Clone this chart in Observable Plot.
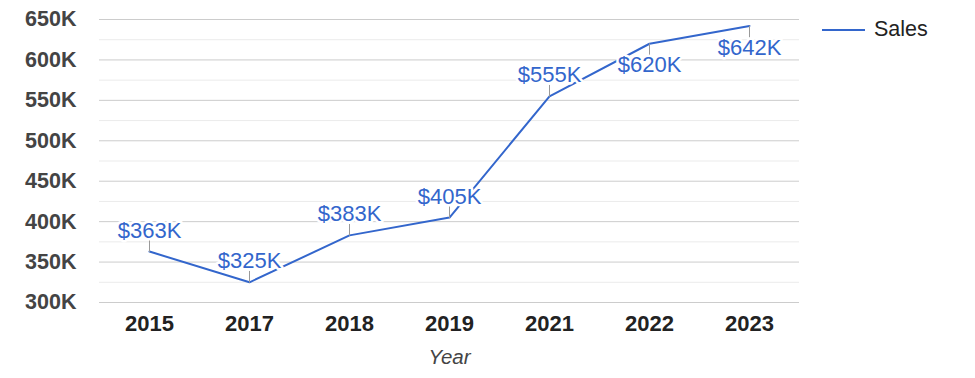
<!DOCTYPE html>
<html>
<head>
<meta charset="utf-8">
<script src="https://cdn.jsdelivr.net/npm/d3@7"></script>
<script src="https://cdn.jsdelivr.net/npm/@observablehq/plot@0.6"></script>
<style>
  html, body { margin: 0; padding: 0; background: #fff; }
  #wrap { position: relative; width: 975px; height: 378px; font-family: "Liberation Sans", Arial, sans-serif; }
  #legend { position: absolute; left: 822px; top: 17px; display: flex; align-items: center; font-size: 21.5px; color: #222; }
  #legend svg { margin-right: 9px; }
</style>
</head>
<body>
<div id="wrap">
  <div id="chart"></div>
  <div id="legend"><svg width="43" height="4"><line x1="0" x2="43" y1="2" y2="2" stroke="#3366cc" stroke-width="2"/></svg><span>Sales</span></div>
</div>
<script>
const years = ["2015", "2017", "2018", "2019", "2021", "2022", "2023"];
const sales = [363000, 325000, 383000, 405000, 555000, 620000, 642000];
const yTicks = [300000, 350000, 400000, 450000, 500000, 550000, 600000, 650000];
const yMinorTicks = [325000, 375000, 425000, 475000, 525000, 575000, 625000];
const labelBelowYears = ["2022", "2023"];

const data = years.map((year, i) => ({ year, sales: sales[i], below: labelBelowYears.includes(year) }));
const fmt = d => "$" + Math.round(d / 1000) + "K";

const spikeLine = {
  draw(context, l) {
    context.moveTo(0, 0);
    context.lineTo(0, -l);
  }
};

const chart = Plot.plot({
  width: 800,
  height: 378,
  marginLeft: 99,
  marginRight: 1,
  marginTop: 19,
  marginBottom: 76,
  style: { fontFamily: "'Liberation Sans', Arial, sans-serif", background: "white", overflow: "visible" },
  x: { type: "point", domain: years, padding: 0.5, label: null },
  y: { domain: [300000, 650000], label: null },
  marks: [
    Plot.ruleY(yMinorTicks, { stroke: "#ebebeb", strokeWidth: 1 }),
    Plot.ruleY(yTicks, { stroke: "#cccccc", strokeWidth: 1 }),
    Plot.axisY(yTicks, { tickSize: 0, tickPadding: 23, tickFormat: d => d / 1000 + "K", fontSize: 21.5, fontWeight: "bold", fill: "#444", label: null }),
    Plot.axisX({ tickSize: 0, tickPadding: 13, fontSize: 22, fontWeight: "bold", fill: "#222", label: null }),
    Plot.axisX({ ticks: [], label: "Year", labelAnchor: "center", labelArrow: "none", labelOffset: 61, fontStyle: "italic", fontSize: 20.5, fill: "#444" }),
    Plot.line(data, { x: "year", y: "sales", stroke: "#3366cc", strokeWidth: 2 }),
    Plot.vector(data, { x: "year", y: "sales", length: 11, rotate: d => d.below ? 180 : 0, anchor: "start", shape: spikeLine, stroke: "#999", strokeWidth: 1 }),
    Plot.text(data.filter(d => !d.below), { x: "year", y: "sales", text: d => fmt(d.sales), dy: -14, lineAnchor: "bottom", fontSize: 22, fill: "#3366cc", stroke: "white", strokeWidth: 5, paintOrder: "stroke" }),
    Plot.text(data.filter(d => d.below), { x: "year", y: "sales", text: d => fmt(d.sales), dy: 13, lineAnchor: "top", fontSize: 22, fill: "#3366cc", stroke: "white", strokeWidth: 5, paintOrder: "stroke" })
  ]
});
document.getElementById("chart").appendChild(chart);
</script>
</body>
</html>
